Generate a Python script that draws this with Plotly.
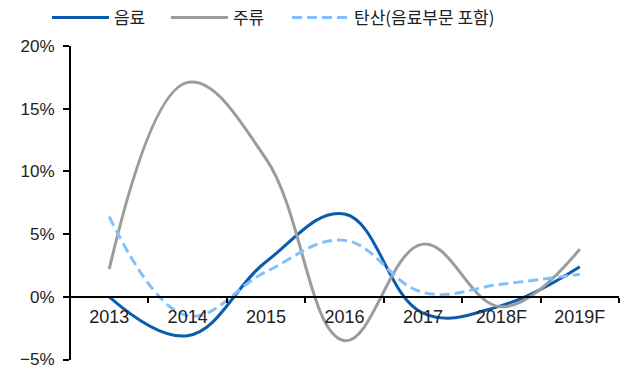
import plotly.graph_objects as go

# Year-over-year growth (%) by segment
years = ["2013", "2014", "2015", "2016", "2017", "2018F", "2019F"]
beverage = [0.0, -3.1, 2.8, 6.6, -1.3, -0.7, 2.4]          # 음료
liquor = [2.2, 17.1, 11.0, -3.5, 4.2, -0.8, 3.8]           # 주류
carbonated = [6.4, -1.5, 2.0, 4.5, 0.35, 1.0, 1.8]         # 탄산(음료부문 포함)

y_ticks = [-5, 0, 5, 10, 15, 20]
y_labels = ["\u22125%", "0%", "5%", "10%", "15%", "20%"]

FONT = "Liberation Sans, Arial, Noto Sans CJK KR, sans-serif"
KFONT = "Noto Sans CJK KR, sans-serif"
SMOOTH = 1.15

fig = go.Figure()
fig.add_trace(go.Scatter(
    x=years, y=beverage, name="음료", mode="lines", legend="legend",
    line=dict(color="#0B5CAD", width=3, shape="spline", smoothing=SMOOTH),
))
fig.add_trace(go.Scatter(
    x=years, y=liquor, name="주류", mode="lines", legend="legend2",
    line=dict(color="#9C9C9C", width=3, shape="spline", smoothing=SMOOTH),
))
fig.add_trace(go.Scatter(
    x=years, y=carbonated, name="탄산(음료부문 포함)", mode="lines",
    legend="legend3",
    line=dict(color="#80C0FF", width=3, shape="spline", smoothing=SMOOTH,
              dash="10px,5px"),
))


def legend_box(x):
    return dict(
        orientation="h", xref="container", yref="container",
        x=x, y=1.0, xanchor="left", yanchor="top",
        font=dict(family=KFONT, size=17, color="#222222"),
        itemwidth=57, bgcolor="rgba(0,0,0,0)",
    )


fig.update_layout(
    width=626, height=370,
    margin=dict(l=70, r=7, t=46, b=10, autoexpand=False),
    paper_bgcolor="white", plot_bgcolor="white",
    font=dict(family=FONT, size=18, color="#222222"),
    showlegend=True,
    legend=legend_box(0.075),
    legend2=legend_box(0.265),
    legend3=legend_box(0.4585),
    xaxis=dict(
        type="category", anchor="free", position=0.2,
        showline=True, linecolor="black", linewidth=2,
        ticks="outside", tickson="boundaries", ticklen=5,
        tickcolor="black", tickwidth=1.5,
        showgrid=False, zeroline=False,
        range=[-0.5, 6.5], ticklabelstandoff=3,
        tickfont=dict(family=FONT, size=18, color="#222222"),
    ),
    yaxis=dict(
        anchor="free", position=0,
        range=[-5.04, 20], tickvals=y_ticks, ticktext=y_labels,
        showline=True, linecolor="black", linewidth=2,
        ticks="outside", ticklen=6, tickcolor="black", tickwidth=1.5,
        showgrid=False, zeroline=True, zerolinecolor="black", zerolinewidth=2,
        ticklabelstandoff=5, ticklabeloverflow="allow",
        tickfont=dict(family=FONT, size=17, color="#222222"),
    ),
)

fig.write_html("out.html")
